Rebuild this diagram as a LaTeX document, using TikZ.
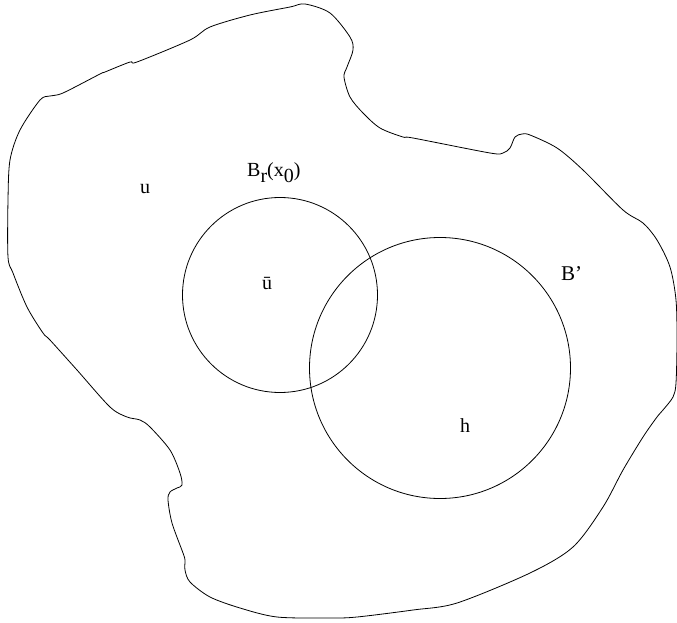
\documentclass[tikz,border=0pt]{standalone}
\usepackage{fontspec}
\setmainfont{Liberation Serif}
\begin{document}
\begin{tikzpicture}[x=1pt,y=-1pt,
  outline/.style={line width=0.8pt,black},
  lbl/.style={inner sep=0pt,font=\fontsize{20}{23}\selectfont}]
\useasboundingbox (0,0) rectangle (677,623);
% region boundary
\draw[outline] plot[smooth cycle,tension=0.5] coordinates {
 (8,200) (10,160) (20,130) (40,100) (50,96) (63,93) (100,74) (105,72) (130,62) (137,62)
 (190,40) (210,27) (250,15) (290,7) (305,4) (330,13) (350,37) (353,50) (347,67) (344,77)
 (350,97) (363,113) (380,128) (403,137) (413,138) (490,153) (503,153) (510,148) (515,137)
 (522,134) (530,135) (557,148) (583,170) (623,210) (643,223) (657,240) (670,267) (676,300)
 (677,340) (676,383) (673,397) (663,410) (657,417) (643,437) (623,470) (603,507) (573,547)
 (530,573) (457,603) (413,610) (357,617) (330,618) (277,617) (240,608) (210,597) (190,582)
 (185,570) (185,560) (183,553) (172,523) (168,500) (170,492) (177,488) (182,485) (180,473)
 (170,450) (150,427) (140,420) (127,417) (110,407) (77,370) (50,340) (43,333) (27,307)
 (13,273) (8,257)};
% balls
\node[outline,draw,circle,minimum size=195pt,inner sep=0pt] (br) at (280,295) {};
\node[outline,draw,circle,minimum size=261pt,inner sep=0pt] (bp) at (440,368) {};
% labels
\node[lbl] (u) at (145,189) {u};
\node[lbl] (ubar) at (267,283) {ū};
\node[lbl,anchor=base west] (brlabel) at (247,176) {B\raisebox{-6pt}{r}(x\raisebox{-6pt}{0})};
\node[lbl,font=\fontsize{21}{24}\selectfont,anchor=base west] (bprime) at (561,280) {B’};
\node[lbl,anchor=base] (h) at (465,432) {h};
\end{tikzpicture}
\end{document}
